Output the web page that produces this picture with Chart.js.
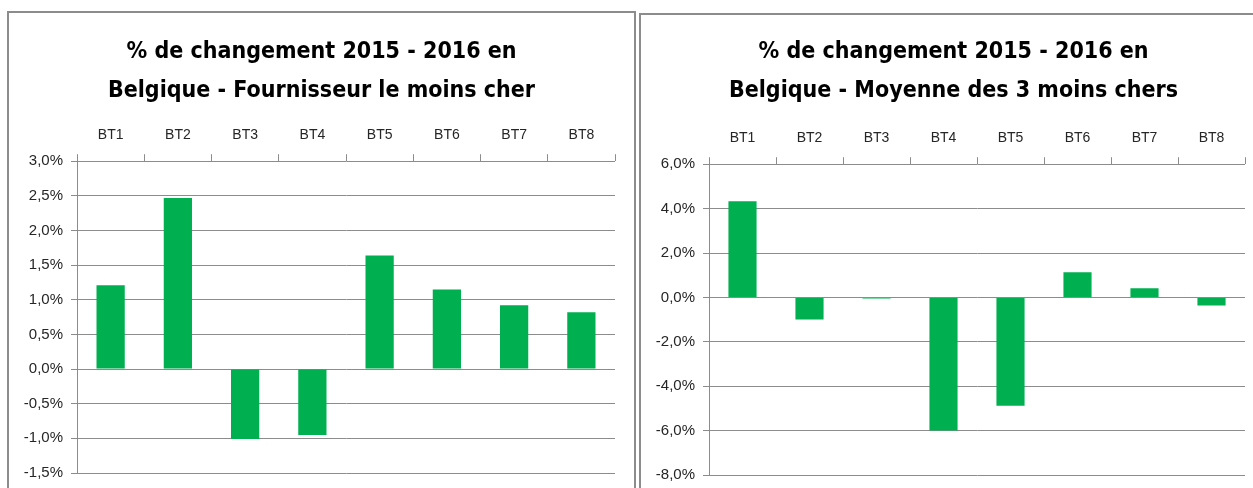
<!DOCTYPE html>
<html>
<head>
    <title>% de changement 2015 - 2016 en Belgique</title>
    <script src="https://cdn.jsdelivr.net/npm/chart.js@4.4.1/dist/chart.umd.min.js"></script>
    <style>
        html, body {
            margin: 0;
            padding: 0;
            background: #fff;
            overflow: hidden;
            width: 1253px;
            height: 488px;
        }
        .panel {
            position: absolute;
            border: 2px solid #8c8c8c;
            background: #fff;
        }
        #panelLeft { left: 7px; top: 11px; width: 625px; height: 520px; }
        #panelRight { left: 639px; top: 13px; width: 625px; height: 520px; }
        #panelLeft canvas, #panelRight canvas { display: block; }
    </style>
</head>
<body>
    <div class="panel" id="panelLeft"><canvas id="chartLeft"></canvas></div>
    <div class="panel" id="panelRight"><canvas id="chartRight"></canvas></div>

    <script>
        // categories
        const categories = ['BT1', 'BT2', 'BT3', 'BT4', 'BT5', 'BT6', 'BT7', 'BT8'];

        // % change, cheapest supplier
        const cheapestValues = [1.21, 2.47, -1.01, -0.95, 1.64, 1.15, 0.92, 0.82];
        // % change, average of 3 cheapest
        const avg3Values = [4.33, -0.99, -0.05, -6.0, -4.88, 1.13, 0.41, -0.37];

        const leftTitle = ['% de changement 2015 - 2016 en', 'Belgique - Fournisseur le moins cher'];
        const rightTitle = ['% de changement 2015 - 2016 en', 'Belgique - Moyenne des 3 moins chers'];

        const titleFont = "'Liberation Sans Narrow', 'DejaVu Sans Condensed', 'Liberation Sans', sans-serif";
        const tickFont = "'Liberation Sans', Arial, sans-serif";
        const gridColor = '#8c8c8c';
        const barColor = '#00b050';

        function pct(v) {
            let s = Number(v).toFixed(1);
            if (s === '-0.0') s = '0.0';
            return s.replace('.', ',') + '%';
        }

        function makeChart(id, w, h, title, values, yMin, yMax, step, areaWidth, titleTop, xAxisHeight, xPad, areaBottom) {
            const canvas = document.getElementById(id);
            canvas.width = w;
            canvas.height = h;
            canvas.style.width = w + 'px';
            canvas.style.height = h + 'px';

            return new Chart(canvas.getContext('2d'), {
                type: 'bar',
                data: {
                    labels: categories,
                    datasets: [{
                        data: values,
                        backgroundColor: barColor,
                        borderWidth: 0,
                        categoryPercentage: 1,
                        barPercentage: 0.42
                    }]
                },
                options: {
                    responsive: false,
                    animation: false,
                    layout: { padding: { left: 0, right: 0, top: 0, bottom: h - areaBottom } },
                    plugins: {
                        legend: { display: false },
                        tooltip: { enabled: false },
                        title: {
                            display: true,
                            text: title,
                            color: '#000',
                            font: { family: titleFont, size: 23, weight: 'bold', lineHeight: 1.7 },
                            padding: { top: titleTop, bottom: 0 }
                        }
                    },
                    scales: {
                        x: {
                            position: 'top',
                            offset: true,
                            grid: {
                                offset: true,
                                drawOnChartArea: false,
                                drawTicks: true,
                                tickLength: 7,
                                color: gridColor
                            },
                            border: { display: false },
                            ticks: {
                                color: '#262626',
                                padding: xPad,
                                font: { family: tickFont, size: 14 }
                            },
                            afterFit: function(scale) { scale.height = xAxisHeight; }
                        },
                        y: {
                            min: yMin,
                            max: yMax,
                            grid: {
                                color: gridColor,
                                lineWidth: 1,
                                tickLength: 6
                            },
                            border: { display: true, color: gridColor, width: 1 },
                            ticks: {
                                stepSize: step,
                                color: '#262626',
                                padding: 8,
                                font: { family: tickFont, size: 15 },
                                callback: function(v) { return pct(v); }
                            },
                            afterFit: function(scale) { scale.width = 68; }
                        },
                        // empty right margin so the title stays centred on the panel
                        yRight: {
                            type: 'linear',
                            position: 'right',
                            display: true,
                            grid: { display: false },
                            border: { display: false },
                            ticks: { display: false },
                            afterFit: function(scale) { scale.width = w - 68 - areaWidth; }
                        }
                    }
                }
            });
        }

        makeChart('chartLeft', 625, 500, leftTitle, cheapestValues, -1.5, 3.0, 0.5, 538, 19, 51, 11, 460);
        makeChart('chartRight', 625, 500, rightTitle, avg3Values, -8, 6, 2, 536, 17, 54, 11, 460);
    </script>
</body>
</html>
